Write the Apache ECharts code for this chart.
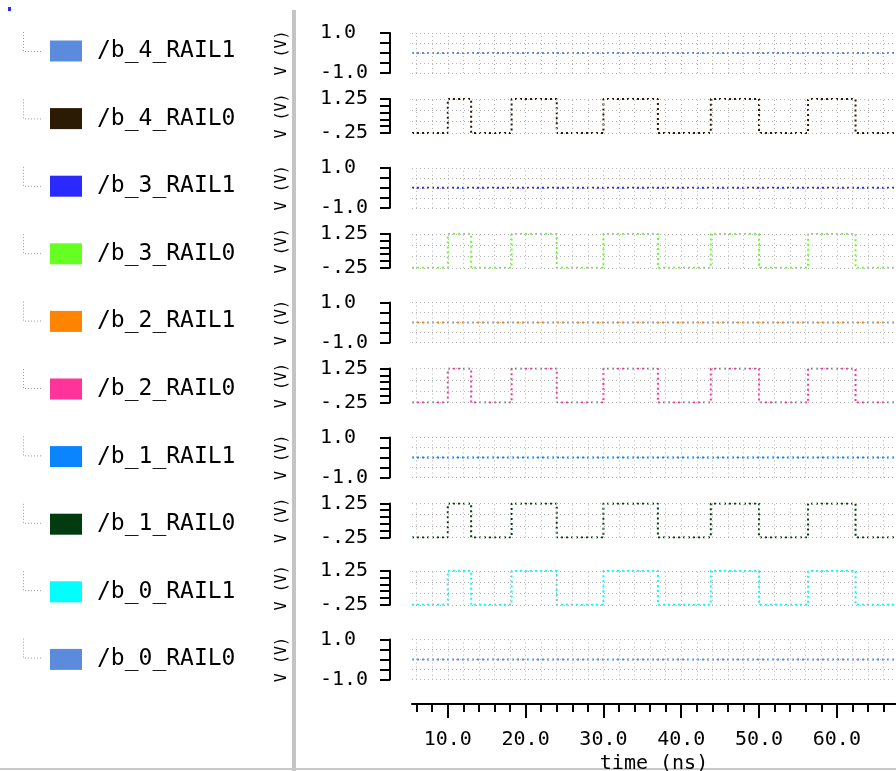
<!DOCTYPE html>
<html><head><meta charset="utf-8">
<script src="https://cdn.jsdelivr.net/npm/echarts@6/dist/echarts.min.js"></script>
<style>html,body{margin:0;padding:0;background:#fff}#c{width:896px;height:771px}</style>
</head><body><div id="c"></div><script>
// ---- data ----
const signalNames = ['/b_4_RAIL1','/b_4_RAIL0','/b_3_RAIL1','/b_3_RAIL0','/b_2_RAIL1','/b_2_RAIL0','/b_1_RAIL1','/b_1_RAIL0','/b_0_RAIL1','/b_0_RAIL0'];
const signalColors = ['#5b8bdc','#2b1a04','#2a2aff','#66ff22','#ff8400','#ff3399','#0a84ff','#003c10','#00ffff','#5b8bdc'];
const signalKinds = ['flat','pulse','flat','pulse','flat','pulse','flat','pulse','pulse','flat'];
const pulseTimes  = [5.4, 10, 13, 18.2, 24, 30, 37, 43.8, 50, 56.3, 62.4, 67.6];
const pulseLevels = [-0.25, 1.25, -0.25, 1.25, -0.25, 1.25, -0.25, 1.25, -0.25, 1.25, -0.25, -0.25];
const flatTimes  = [5.4, 67.6];
const flatLevels = [0, 0];
const timeMin = 5.4, timeMax = 67.6;
const minorTickTimes = [6,8,10,12,14,16,18,20,22,24,26,28,30,32,34,36,38,40,42,44,46,48,50,52,54,56,58,60,62,64,66];
const majorTickTimes = [10,20,30,40,50,60];
const pulseRange = [-0.25, 1.25];
const pulseTicks = [-0.25, 0.05, 0.35, 0.65, 0.95, 1.25];
const pulseGridLevels = [-0.25, 0.25, 0.75, 1.25];
const pulseLabels = ['-.25', '1.25'];
const flatRange = [-1, 1];
const flatTicks = [-1, -0.5, 0, 0.5, 1];
const flatGridLevels = [-1, -0.5, 0, 0.5, 1];
const flatLabels = ['-1.0', '1.0'];

// ---- layout ----
const MONO = 'DejaVu Sans Mono';
const ROW = 67.4;
const GL = 412;
const grids = [], xAxes = [], yAxes = [], series = [], graphics = [];
signalNames.forEach((name, i) => {
  const pulse = signalKinds[i] === 'pulse';
  const top = pulse ? 31.6 + ROW * i : 33 + ROW * i;
  const h = pulse ? 34 : 40;
  grids.push({left: GL, width: 896 - GL, top: top, height: h, outerBoundsMode: 'none', containLabel: false});
  xAxes.push({gridIndex: i, type: 'value', min: timeMin, max: timeMax, show: false});
  const rng = pulse ? pulseRange : flatRange;
  const labs = pulse ? pulseLabels : flatLabels;
  yAxes.push({
    gridIndex: i, type: 'value', min: rng[0], max: rng[1], position: 'left', offset: 22,
    axisLine: {show: true, lineStyle: {color: '#000', width: 2}},
    axisTick: {show: true, customValues: pulse ? pulseTicks : flatTicks, length: 10, lineStyle: {color: '#000', width: 2}},
    axisLabel: {show: true, customValues: rng, align: 'left', margin: 70, fontFamily: MONO, fontSize: 20, color: '#000',
      formatter: v => (v === rng[0] ? labs[0] : labs[1])},
    splitLine: {show: false},
    name: 'V (V)', nameLocation: 'middle', nameGap: 100,
    nameTextStyle: {fontFamily: MONO, fontSize: 15, color: '#000'}
  });
  const times = pulse ? pulseTimes : flatTimes;
  const levels = pulse ? pulseLevels : flatLevels;
  const gl = pulse ? pulseGridLevels : flatGridLevels;
  series.push({
    name: 'grid' + i, type: 'line', xAxisIndex: i, yAxisIndex: i, data: [], z: 1, silent: true,
    markLine: {silent: true, symbol: ['none', 'none'], label: {show: false}, animation: false,
      lineStyle: {color: '#b5b5b5', type: [1, 3], width: 1},
      emphasis: {disabled: true},
      data: minorTickTimes.map(t => ({xAxis: t})).concat(gl.map(v => ({yAxis: v})))}
  });
  series.push({
    name: name, type: 'line', xAxisIndex: i, yAxisIndex: i, step: 'end', symbol: 'none', z: 3,
    data: times.map((t, k) => [t, levels[k]]),
    itemStyle: {color: signalColors[i]},
    lineStyle: {color: signalColors[i], width: 2, type: [2, 3]}
  });
  const c = 50 + ROW * i;
  graphics.push({type: 'polyline', silent: true,
    shape: {points: [[23.5, c - 18], [23.5, c + 1.5], [42, c + 1.5]]},
    style: {stroke: '#9a9a9a', lineWidth: 1, lineDash: [1, 2], fill: null}});
});

// bottom time axis (ticks every 2 ns, labels every 10 ns)
const last = signalNames.length - 1;
const axisOffset = 704 - (33 + ROW * last + 40);
xAxes.push({gridIndex: last, type: 'value', min: timeMin, max: timeMax, position: 'bottom', offset: axisOffset,
  axisLine: {show: true, lineStyle: {color: '#000', width: 2}},
  axisTick: {show: true, customValues: minorTickTimes, length: 8, lineStyle: {color: '#000', width: 2}},
  axisLabel: {show: false}, splitLine: {show: false}});
xAxes.push({gridIndex: last, type: 'value', min: timeMin, max: timeMax, position: 'bottom', offset: axisOffset,
  axisLine: {show: false},
  axisTick: {show: true, customValues: majorTickTimes, length: 14, lineStyle: {color: '#000', width: 2}},
  axisLabel: {show: true, customValues: majorTickTimes, formatter: v => v.toFixed(1), margin: 26,
    fontFamily: MONO, fontSize: 20, color: '#000'},
  splitLine: {show: false},
  name: 'time (ns)', nameLocation: 'middle', nameGap: 50,
  nameTextStyle: {fontFamily: MONO, fontSize: 20, color: '#000'}});

graphics.push({type: 'rect', silent: true, shape: {x: 292, y: 10, width: 4, height: 761}, style: {fill: '#c4c4c4'}});
graphics.push({type: 'line', silent: true, shape: {x1: 0, y1: 769, x2: 896, y2: 769}, style: {stroke: '#c8c8c8', lineWidth: 2}});
graphics.push({type: 'rect', silent: true, shape: {x: 8, y: 7, width: 3, height: 4}, style: {fill: '#2a2aff'}});

const chart = echarts.init(document.getElementById('c'));
chart.setOption({
  animation: false,
  backgroundColor: '#fff',
  legend: {
    data: signalNames.map(n => ({name: n, icon: 'rect'})),
    orient: 'vertical', left: 50, top: 39.5, padding: 0,
    itemWidth: 32, itemHeight: 21, itemGap: ROW - 21 - 1.8, selectedMode: false,
    textStyle: {fontFamily: MONO, fontSize: 23, color: '#000', lineHeight: 21, padding: [0, 0, 0, 10]}
  },
  grid: grids, xAxis: xAxes, yAxis: yAxes, series: series, graphic: graphics
});
</script></body></html>
